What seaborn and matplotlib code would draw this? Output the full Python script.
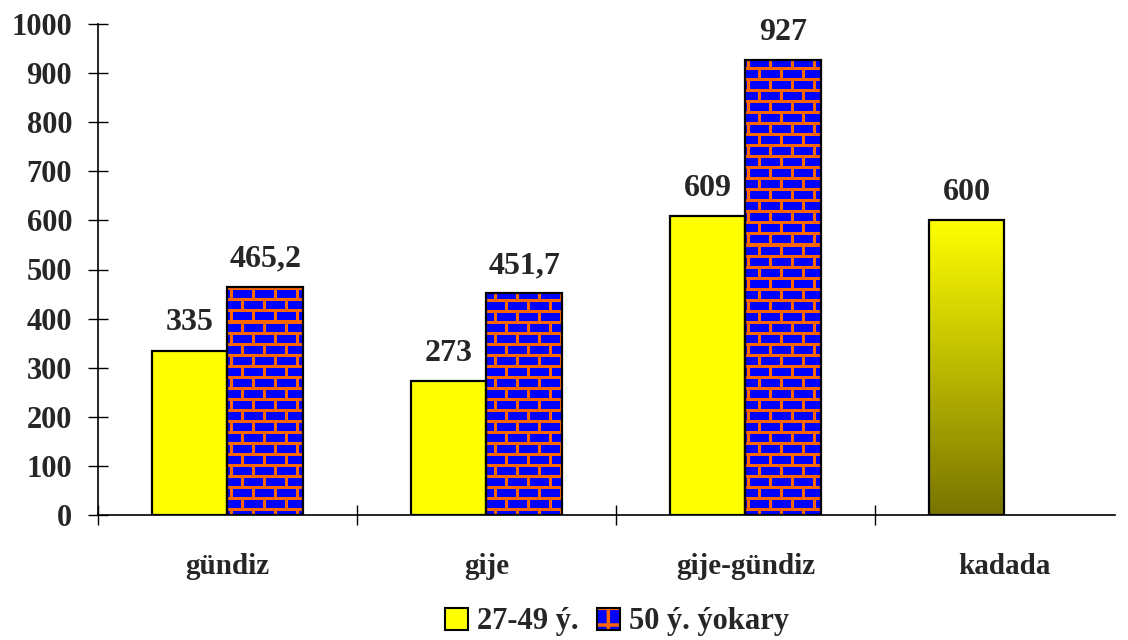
import numpy as np
import pandas as pd
import matplotlib
matplotlib.use("Agg")
import matplotlib.pyplot as plt
import seaborn as sns
from matplotlib.colors import LinearSegmentedColormap, ListedColormap
from matplotlib.patches import Rectangle
from matplotlib.legend_handler import HandlerTuple

categories = ["gündiz", "gije", "gije-gündiz", "kadada"]
series_names = ["27-49 ý.", "50 ý. ýokary"]
values_27_49 = [335, 273, 609, 600]
values_50_up = [465.2, 451.7, 927, np.nan]
y_ticks = [0, 100, 200, 300, 400, 500, 600, 700, 800, 900, 1000]

YELLOW = "#FFFF00"
BLUE = "#0000FF"
ORANGE = "#FF6600"
OLIVE = "#787400"

df = pd.DataFrame({
    "cat": categories * 2,
    "grp": [series_names[0]] * 4 + [series_names[1]] * 4,
    "val": values_27_49 + values_50_up,
})

sns.set_style("white")
plt.rcParams["font.family"] = ["Liberation Serif", "DejaVu Serif"]
plt.rcParams["font.weight"] = "bold"

fig = plt.figure(figsize=(11.28, 6.4), dpi=100)
ax = fig.add_axes([98 / 1128, 1 - 515 / 640, (1115 - 98) / 1128, (515 - 24) / 640])

sns.barplot(data=df, x="cat", y="val", hue="grp", order=categories,
            hue_order=series_names, palette=[YELLOW, BLUE], width=0.585,
            dodge=True, legend=False, ax=ax, saturation=1, errorbar=None)

xlim = (-0.5, 3.427)
ylim = (0, 1000)
ax.set_xlim(*xlim)
ax.set_ylim(*ylim)
ax.set_autoscale_on(False)

# brick texture (pixel-based)
H, W = 491, 1017
yy, xx = np.mgrid[0:H, 0:W]
row = yy // 11
mortar_h = (yy % 11) < 3
mortar_v = ((xx + (row % 2) * 11) % 22) < 3
brick = np.where(mortar_h | mortar_v, 1, 0)
brick_cmap = ListedColormap([BLUE, ORANGE])

grad_cmap = LinearSegmentedColormap.from_list("olive_yellow", [OLIVE, YELLOW])

fmt = lambda v: (f"{v:.1f}".replace(".", ",") if v != int(v) else f"{int(v)}")

for ci, cont in enumerate(ax.containers):
    for bi, bar in enumerate(cont.patches):
        h = bar.get_height()
        if not np.isfinite(h) or h == 0:
            continue
        bar.set_edgecolor("black")
        bar.set_linewidth(1.6)
        bar.set_zorder(3)
        if ci == 0:
            if bi == 3:
                bar.set_facecolor("none")
                x0 = bar.get_x()
                w = bar.get_width()
                g = np.linspace(1, 0, 256).reshape(-1, 1)
                im = ax.imshow(g, cmap=grad_cmap, extent=(x0, x0 + w, 0, h),
                               aspect="auto", zorder=2, origin="upper",
                               interpolation="bilinear")
                im.set_clip_path(bar)
            else:
                bar.set_facecolor(YELLOW)
        else:
            bar.set_facecolor("none")
            im = ax.imshow(brick, cmap=brick_cmap, extent=(xlim[0], xlim[1], ylim[0], ylim[1]),
                           aspect="auto", zorder=2, origin="upper",
                           interpolation="nearest", vmin=0, vmax=1)
            im.set_clip_path(bar)
        ax.annotate(fmt(h), (bar.get_x() + bar.get_width() / 2, h),
                    xytext=(0, 14.5), textcoords="offset points",
                    ha="center", va="baseline", fontsize=23, fontweight="bold")

# axes styling
for s in ["top", "right"]:
    ax.spines[s].set_visible(False)
for s in ["left", "bottom"]:
    ax.spines[s].set_color("black")
    ax.spines[s].set_linewidth(1.2)

ax.set_yticks(y_ticks)
ax.set_yticklabels([str(t) for t in y_ticks])
ax.set_xticks([-0.5, 0.5, 1.5, 2.5])
ax.set_xticklabels([])
ax.set_xticks(range(len(categories)), minor=True)
ax.set_xticklabels(categories, minor=True)
ax.tick_params(axis="x", which="major", bottom=True, direction="inout", length=14.4,
               width=1.0, color="black")
ax.tick_params(axis="x", which="minor", bottom=True, length=0, pad=27.5, labelsize=21)
ax.tick_params(axis="y", left=True, direction="inout", length=14.4, width=1.0, color="black",
               pad=11.5, labelsize=22)
for lab in ax.get_yticklabels() + ax.get_xticklabels(minor=True):
    lab.set_fontweight("bold")
ax.set_xlabel("")
ax.set_ylabel("")
ax.set_xlim(*xlim)
ax.set_ylim(*ylim)

# legend
h1 = Rectangle((0, 0), 1, 1, facecolor=YELLOW, edgecolor="black", linewidth=1.5)
plt.rcParams["hatch.color"] = ORANGE
plt.rcParams["hatch.linewidth"] = 2.5
h2a = Rectangle((0, 0), 1, 1, facecolor=BLUE, edgecolor=ORANGE, hatch="+", linewidth=0)
h2b = Rectangle((0, 0), 1, 1, facecolor="none", edgecolor="black", linewidth=1.5)
leg = fig.legend([h1, (h2a, h2b)], series_names, loc="center",
                 bbox_to_anchor=(617 / 1128, 1 - 622 / 640),
                 ncol=2, frameon=False, handlelength=0.75, handleheight=0.75, handletextpad=0.3,
                 columnspacing=0.6, prop={"size": 22, "weight": "bold"},
                 handler_map={tuple: HandlerTuple(ndivide=1, pad=0)})

fig.savefig("out.png", dpi=100)
